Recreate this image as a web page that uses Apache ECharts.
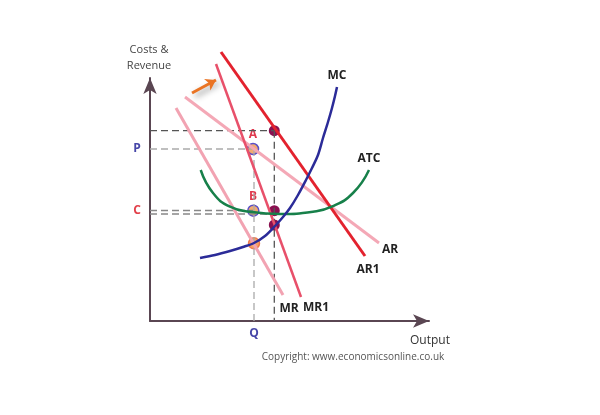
<!DOCTYPE html>
<html>
<head>
<meta charset="utf-8">
<script src="https://cdn.jsdelivr.net/npm/echarts@6/dist/echarts.min.js"></script>
<style>html,body{margin:0;padding:0;background:#fff}#c{width:600px;height:415px}</style>
</head>
<body>
<div id="c"></div>
<script>
// Data in chart units (origin at axis corner)
const curveAR1 = [[71, 269], [215, 65]];
const curveMR1 = [[66, 257], [151, 24]];
const curveAR = [[35, 224], [229, 78]];
const curveMR = [[26, 213], [133, 26]];
const curveMC = [[50, 63], [65, 66], [80, 70], [93, 74], [104, 78], [115, 85], [125, 95], [133, 104], [140, 113], [148, 126], [156, 141], [162, 153], [168, 166], [173, 183], [178, 199], [182, 213], [185, 225], [187, 234]];
const curveATC = [[50.7, 151], [63, 128], [80, 114.3], [100, 109.3], [130, 107], [163, 109.3], [181.7, 114.3], [203, 128], [219, 151]];
const levelTop = 190.3, levelP = 172, levelC1 = 110.5, levelC2 = 107;
const qA = 104, qB = 124.3;
const darkPoints = [[124.3, 190.3], [124.3, 110.3], [124.3, 96]];
const abPoints = [[103, 172], [103.3, 110.3]];
const lowPoint = [[104, 77.7]];
const shiftArrow = [[42, 228], [66, 241]];

const chart = echarts.init(document.getElementById('c'));
const font = '"Open Sans", "Noto Sans", sans-serif';
function lineS(data, color, width, opts) {
  return Object.assign({ type: 'line', data: data, showSymbol: false, symbol: 'none', clip: false,
    lineStyle: { color: color, width: width }, silent: true, animation: false }, opts || {});
}
function dashed(data, color) {
  return lineS(data, color, 1.3, { lineStyle: { color: color, width: 1.3, type: [7, 4] } });
}
function txt(x, y, s, size, color, weight) {
  return { type: 'text', x: x, y: y, style: { text: s, fontSize: size, fill: color, fontWeight: weight || 'normal',
    fontFamily: font, align: 'center', verticalAlign: 'middle' } };
}
chart.setOption({
  animation: false,
  grid: { left: 150, top: 78, width: 279, height: 243 },
  xAxis: { type: 'value', min: 0, max: 279, axisLine: { show: true, symbol: ['none', 'arrow'], symbolSize: [10, 16],
      lineStyle: { color: '#5a4652', width: 2 } }, axisTick: { show: false }, axisLabel: { show: false }, splitLine: { show: false } },
  yAxis: { type: 'value', min: 0, max: 243, axisLine: { show: true, symbol: ['none', 'arrow'], symbolSize: [10, 16],
      lineStyle: { color: '#5a4652', width: 2 } }, axisTick: { show: false }, axisLabel: { show: false }, splitLine: { show: false } },
  series: [
    dashed([[0, levelTop], [qB, levelTop]], '#555'),
    dashed([[qB, levelTop], [qB, 0]], '#555'),
    dashed([[0, levelP], [qA - 1, levelP]], '#aaa'),
    dashed([[qA, levelP], [qA, 0]], '#aaa'),
    dashed([[0, levelC1], [qA - 1, levelC1]], '#888'),
    dashed([[0, levelC2], [qB, levelC2]], '#888'),
    lineS(curveMR, '#f2a3b2', 3),
    lineS(curveAR, '#f4a8b6', 3),
    lineS(curveMR1, '#e8506a', 2.5),
    lineS(curveAR1, '#e3222e', 3),
    lineS(curveATC, '#17804a', 2.5, { smooth: 0.5 }),
    lineS(curveMC, '#2b2b98', 2.5, { smooth: 0.3 }),
    { type: 'lines', coordinateSystem: 'cartesian2d', silent: true, animation: false,
      symbol: ['none', 'arrow'], symbolSize: 10,
      lineStyle: { color: '#ea7424', width: 3, opacity: 1, shadowColor: 'rgba(0,0,0,0.45)', shadowBlur: 6, shadowOffsetX: 3, shadowOffsetY: 3 },
      data: [{ coords: shiftArrow }] },
    { type: 'scatter', data: darkPoints, symbolSize: 11, itemStyle: { color: '#8a1050', opacity: 1 }, silent: true, animation: false },
    { type: 'scatter', data: abPoints, symbolSize: 11, itemStyle: { color: '#f2aa70', borderColor: '#5a50c8', borderWidth: 1.5, opacity: 1 }, silent: true, animation: false },
    { type: 'scatter', data: lowPoint, symbolSize: 11, itemStyle: { color: '#f5a462', borderColor: '#f07850', borderWidth: 1.5, opacity: 1 }, silent: true, animation: false }
  ],
  graphic: [
    txt(149, 50, 'Costs &', 11, '#444'),
    txt(149, 66, 'Revenue', 11, '#444'),
    txt(137, 149, 'P', 12, '#4646a8', 'bold'),
    txt(137, 211, 'C', 12, '#e2404a', 'bold'),
    txt(253, 135, 'A', 12, '#e03a4e', 'bold'),
    txt(253, 197, 'B', 12, '#e03a4e', 'bold'),
    txt(337, 76, 'MC', 12, '#222', 'bold'),
    txt(369, 159, 'ATC', 12, '#222', 'bold'),
    txt(390, 250, 'AR', 12, '#222', 'bold'),
    txt(368, 270, 'AR1', 12, '#222', 'bold'),
    txt(289, 309, 'MR', 12, '#222', 'bold'),
    txt(316, 308, 'MR1', 12, '#222', 'bold'),
    txt(254, 334, 'Q', 12, '#4646a8', 'bold'),
    txt(430, 341, 'Output', 12, '#333'),
    txt(353, 357, 'Copyright: www.economicsonline.co.uk', 10, '#555')
  ]
});
</script>
</body>
</html>
